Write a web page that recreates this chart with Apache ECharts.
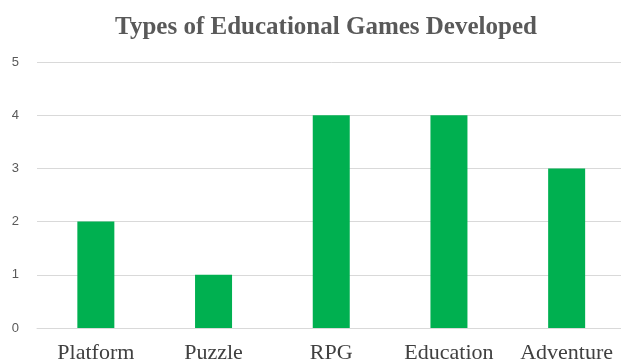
<!DOCTYPE html>
<html><head><meta charset="utf-8">
<script src="https://cdn.jsdelivr.net/npm/echarts@6/dist/echarts.min.js"></script>
<style>html,body{margin:0;padding:0;background:#fff;overflow:hidden}#c{width:626px;height:364px}</style>
</head><body><div id="c"></div>
<script>
const categories = ["Platform", "Puzzle", "RPG", "Education", "Adventure"];
const counts = [2, 1, 4, 4, 3];
const yTicks = [0, 1, 2, 3, 4, 5];

const chart = echarts.init(document.getElementById('c'), null, {renderer: 'canvas'});
chart.setOption({
  animation: false,
  backgroundColor: '#fff',
  title: {
    text: 'Types of Educational Games Developed',
    left: 321, top: 10, textAlign: 'center',
    textStyle: {fontFamily: 'Liberation Serif', fontWeight: 'bold', fontSize: 25, color: '#595959'}
  },
  grid: {left: 37, right: 0.5, top: 62, bottom: 35, containLabel: false},
  xAxis: {
    type: 'category', data: categories,
    axisLine: {lineStyle: {color: '#d9d9d9', width: 1}},
    axisTick: {show: false},
    axisLabel: {interval: 0, hideOverlap: false, fontFamily: 'Liberation Serif', fontSize: 22, color: '#404040', margin: 14}
  },
  yAxis: {
    type: 'value', min: yTicks[0], max: yTicks[yTicks.length - 1], interval: 1,
    axisLine: {show: false}, axisTick: {show: false},
    splitLine: {lineStyle: {color: '#d9d9d9', width: 1}},
    axisLabel: {fontFamily: 'Liberation Sans', fontSize: 13, color: '#595959', margin: 18}
  },
  series: [{
    type: 'bar', data: counts, barWidth: 37,
    itemStyle: {color: '#00B050'}
  }]
});
</script></body></html>
